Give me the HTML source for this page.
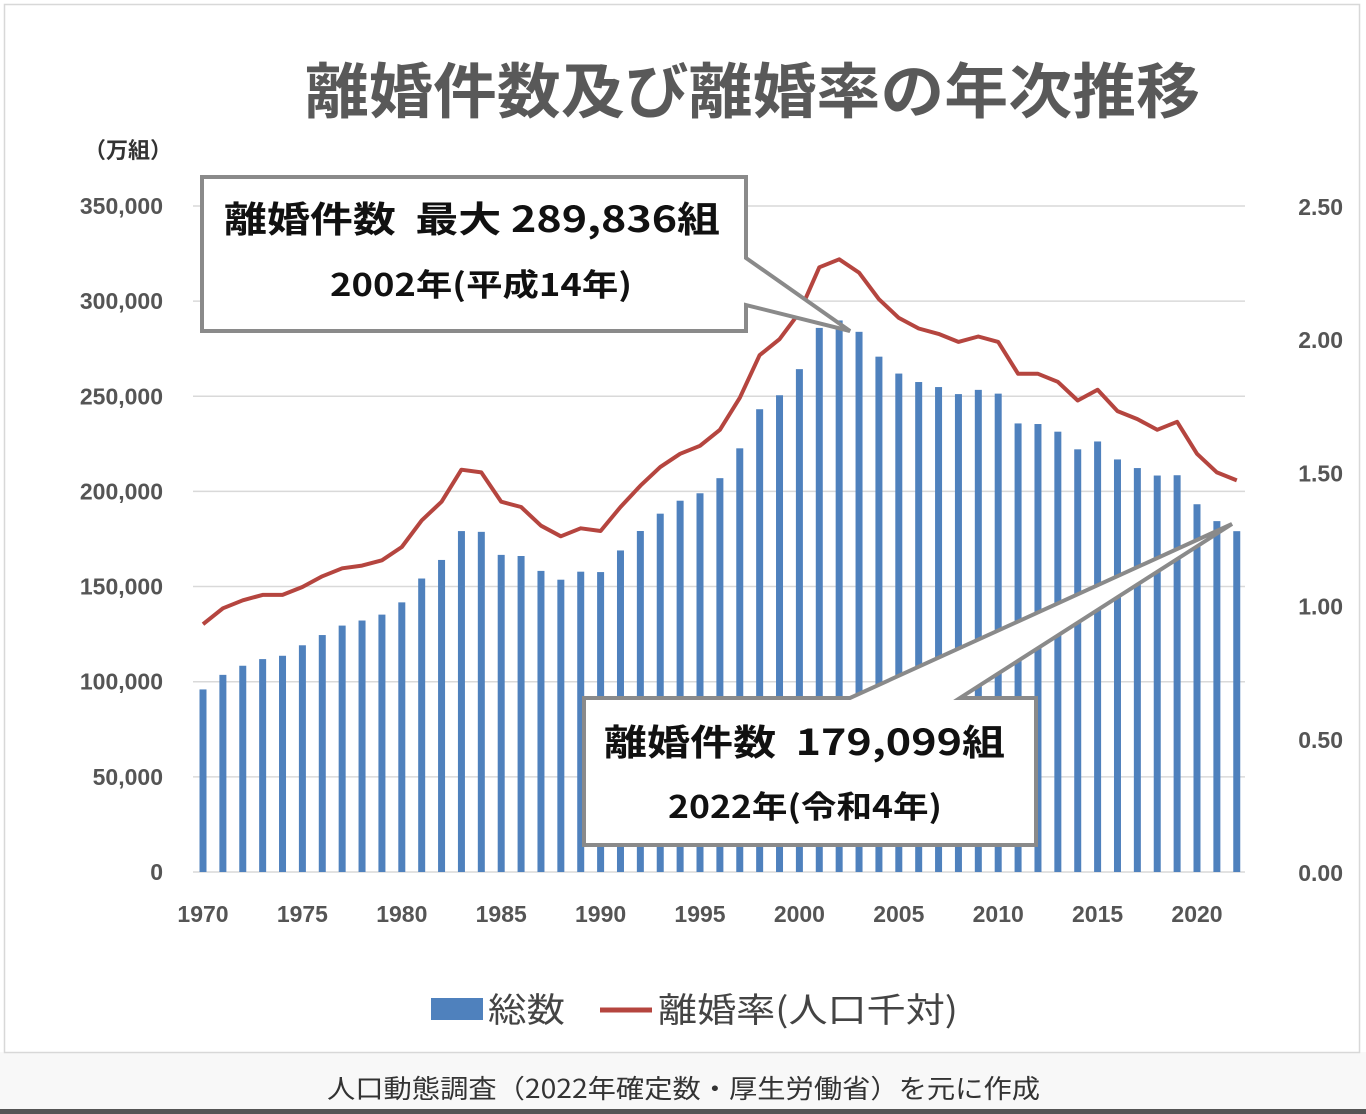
<!DOCTYPE html>
<html><head><meta charset="utf-8"><style>
body{margin:0;width:1366px;height:1114px;background:#fff;overflow:hidden;font-family:"Liberation Sans","Noto Sans CJK JP",sans-serif}
svg{position:absolute;left:0;top:0}
</style></head><body>
<svg id="c" width="1366" height="1114" xmlns="http://www.w3.org/2000/svg">
<rect x="0" y="1052" width="1366" height="62" fill="#f8f8f8"/>
<rect x="4.5" y="4.5" width="1355" height="1048" fill="#fff" stroke="#d8d8d8" stroke-width="1.5"/>
<rect x="0" y="1109" width="1366" height="5" fill="#555"/>
<text x="305" y="113" font-size="60" font-weight="bold" fill="#595959" font-family="Noto Sans CJK JP,sans-serif" textLength="895" lengthAdjust="spacingAndGlyphs">離婚件数及び離婚率の年次推移</text>
<text x="128" y="158" text-anchor="middle" font-size="22" font-weight="bold" fill="#333" font-family="Noto Sans CJK JP,sans-serif">（万組）</text>
<g id="grid"></g><g id="bars"></g><g id="line"></g><g id="lab"></g>
<g font-family="Noto Sans CJK JP,sans-serif">
<polygon points="202,177 746,177 746,258 850,331 746,305 746,331 202,331" fill="#fff" stroke="#8a8a8a" stroke-width="4" stroke-linejoin="miter"/>
<text x="224" y="232" font-size="36" font-weight="bold" fill="#111" textLength="496" lengthAdjust="spacingAndGlyphs" xml:space="preserve">離婚件数  最大 289,836組</text>
<text x="330" y="296" font-size="31" font-weight="bold" fill="#111" textLength="302" lengthAdjust="spacingAndGlyphs">2002年(平成14年)</text>
<polygon points="584,698 850,698 1232,524 960,698 1036,698 1036,845 584,845" fill="#fff" stroke="#8a8a8a" stroke-width="4"/>
<text x="604" y="755" font-size="36" font-weight="bold" fill="#111" textLength="401" lengthAdjust="spacingAndGlyphs" xml:space="preserve">離婚件数  179,099組</text>
<text x="668" y="818" font-size="31" font-weight="bold" fill="#111" textLength="274" lengthAdjust="spacingAndGlyphs">2022年(令和4年)</text>
<rect x="431" y="998" width="52" height="22" fill="#4f81bd"/>
<text x="488" y="1022" font-size="34" fill="#444" textLength="77" lengthAdjust="spacingAndGlyphs">総数</text>
<line x1="600" y1="1010" x2="652" y2="1010" stroke="#b5453f" stroke-width="5"/>
<text x="658" y="1022" font-size="34" fill="#444" textLength="300" lengthAdjust="spacingAndGlyphs">離婚率(人口千対)</text>
<text x="327" y="1098" font-size="26" fill="#333" textLength="713" lengthAdjust="spacingAndGlyphs">人口動態調査（2022年確定数・厚生労働省）を元に作成</text>
</g>
</svg>
<script>
var ns="http://www.w3.org/2000/svg";
function el(p,t,a,txt){var e=document.createElementNS(ns,t);for(var k in a)e.setAttribute(k,a[k]);if(txt!==undefined)e.textContent=txt;document.getElementById(p).appendChild(e);}
var y0=872,pxL=190.3/100000,pxR=266.4;
for(var i=0;i<=7;i++){var y=y0-i*50000*pxL;
 el('grid','line',{x1:193,x2:1245,y1:y,y2:y,stroke:'#d9d9d9','stroke-width':1.5});
 el('lab','text',{x:163,y:y+8,'text-anchor':'end','font-size':23,'font-weight':'bold',fill:'#555'},(i*50000).toLocaleString('en-US'));}
for(var i=0;i<=5;i++){var y=y0-i*0.5*pxR;
 el('lab','text',{x:1343,y:y+9,'text-anchor':'end','font-size':23,'font-weight':'bold',fill:'#555'},(i*0.5).toFixed(2));}
var X=function(yr){return 203+(yr-1970)*19.88};
for(var yr=1970;yr<=2020;yr+=5)el('lab','text',{x:X(yr),y:922,'text-anchor':'middle','font-size':23,'font-weight':'bold',fill:'#555'},yr);
var v=[95937,103595,108382,111877,113622,119135,124512,129485,132146,135250,141689,154221,163980,179150,178746,166640,166054,158227,153600,157811,157608,168969,179191,188297,195106,199016,206955,222635,243183,250529,264246,285911,289836,283854,270804,261917,257475,254832,251136,253353,251378,235719,235406,231383,222107,226238,216798,212262,208333,208496,193253,184384,179099];
var r=[0.93,0.99,1.02,1.04,1.04,1.07,1.11,1.14,1.15,1.17,1.22,1.32,1.39,1.51,1.50,1.39,1.37,1.30,1.26,1.29,1.28,1.37,1.45,1.52,1.57,1.60,1.66,1.78,1.94,2.00,2.10,2.27,2.30,2.25,2.15,2.08,2.04,2.02,1.99,2.01,1.99,1.87,1.87,1.84,1.77,1.81,1.73,1.70,1.66,1.69,1.57,1.50,1.47];
var pts=[];
for(var i=0;i<v.length;i++){var x=X(1970+i),h=v[i]*pxL;
 el('bars','rect',{x:x-3.5,y:y0-h,width:7,height:h,fill:'#4f81bd'});
 pts.push(x.toFixed(1)+','+(y0-r[i]*pxR).toFixed(1));}
el('line','polyline',{points:pts.join(' '),fill:'none',stroke:'#b5453f','stroke-width':4,'stroke-linejoin':'round'});
</script>
</body></html>
